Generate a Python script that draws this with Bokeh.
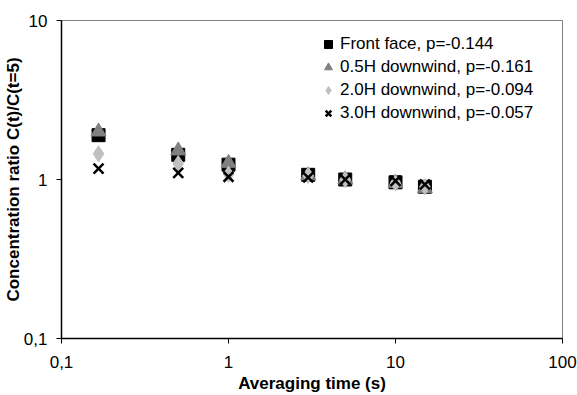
from bokeh.plotting import figure
from bokeh.models import Range1d, FixedTicker, Legend, LegendItem
from bokeh.embed import file_html
from bokeh.resources import INLINE

# Data
times = [1/6, 0.5, 1, 3, 5, 10, 15]
front_face = [1.90, 1.43, 1.24, 1.07, 1.00, 0.96, 0.90]
h05_downwind = [2.00, 1.52, 1.27, 1.06, 1.00, 0.95, 0.88]
h20_downwind = [1.45, 1.26, 1.08, 1.06, 1.00, 0.95, 0.90]
h30_downwind = [1.17, 1.10, 1.04, 1.03, 1.00, 0.98, 0.93]
series_labels = ["Front face, p=-0.144", "0.5H downwind, p=-0.161",
                 "2.0H downwind, p=-0.094", "3.0H downwind, p=-0.057"]
x_ticks = [0.1, 1, 10, 100]
x_tick_labels = ["0,1", "1", "10", "100"]
y_ticks = [0.1, 1, 10]
y_tick_labels = ["0,1", "1", "10"]

FONT = "Liberation Sans"
FS = "17px"

p = figure(width=577, height=395, x_axis_type="log", y_axis_type="log",
           x_range=Range1d(0.1, 100), y_range=Range1d(0.1, 10),
           output_backend="svg", toolbar_location=None,
           min_border_left=61, min_border_right=15, min_border_top=20, min_border_bottom=56)

p.outline_line_color = "#808080"
p.outline_line_width = 1
p.xgrid.visible = False
p.ygrid.visible = False

p.xaxis.ticker = FixedTicker(ticks=x_ticks)
p.yaxis.ticker = FixedTicker(ticks=y_ticks)
p.xaxis.major_label_overrides = {t: l for t, l in zip(x_ticks, x_tick_labels)}
p.yaxis.major_label_overrides = {t: l for t, l in zip(y_ticks, y_tick_labels)}

for ax in (p.xaxis, p.yaxis):
    ax.axis_line_color = "black"
    ax.axis_line_width = 1.5
    ax.major_tick_line_color = "black"
    ax.major_tick_in = 0
    ax.major_tick_out = 5
    ax.minor_tick_line_color = None
    ax.major_label_text_font = FONT
    ax.major_label_text_font_size = FS
    ax.major_label_text_color = "black"
    ax.axis_label_text_font = FONT
    ax.axis_label_text_font_size = FS
    ax.axis_label_text_font_style = "bold"
    ax.axis_label_text_color = "black"

p.xaxis.axis_label = "Averaging time (s)"
p.yaxis.axis_label = "Concentration ratio C(t)/C(t=5)"
p.xaxis.major_label_standoff = 12
p.yaxis.major_label_standoff = 9
p.xaxis.axis_label_standoff = 3
p.yaxis.axis_label_standoff = -2

r1 = p.scatter(times, front_face, marker="square", size=13, fill_color="black", line_color="black")
r2 = p.scatter(times, h05_downwind, marker="triangle", size=15, fill_color="#808080", line_color="#808080")
r3 = p.scatter(times, h20_downwind, marker="diamond", size=16, fill_color="#C0C0C0", line_color="#C0C0C0")
r4 = p.scatter(times, h30_downwind, marker="x", size=14, line_color="black", line_width=2.5)

legend = Legend(items=[LegendItem(label=l, renderers=[r]) for l, r in zip(series_labels, [r1, r2, r3, r4])],
                location=(257, 215), border_line_color=None, background_fill_alpha=0,
                padding=0, margin=0, spacing=3, glyph_width=20, glyph_height=20,
                label_height=20, label_standoff=2,
                label_text_font=FONT, label_text_font_size=FS, label_text_color="black")
p.add_layout(legend)

open("out.html", "w").write(file_html(p, INLINE))
